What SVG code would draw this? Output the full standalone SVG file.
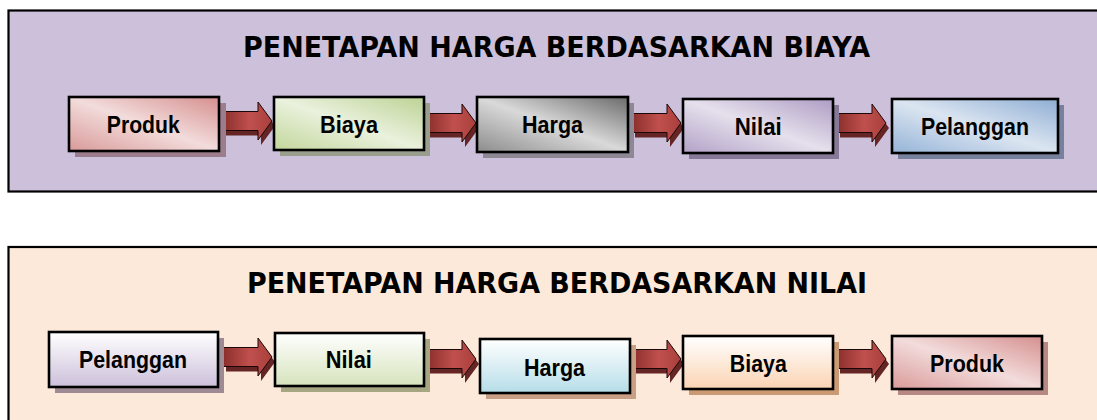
<svg xmlns="http://www.w3.org/2000/svg" width="1097" height="420" viewBox="0 0 1097 420">
<style>
.panel{stroke:#000;stroke-width:2.2}
.box{stroke:#000;stroke-width:2.6}
.title{font-family:"DejaVu Sans",Verdana,sans-serif;font-weight:bold;font-size:28px;fill:#000}
.lbl{font-family:"Liberation Sans",Arial,sans-serif;font-weight:bold;font-size:24px;fill:#000;text-anchor:middle}
.ash{fill:#642524}
.afr{fill:url(#gArrow);stroke:#1a0808;stroke-width:1}
</style>
<defs>
<linearGradient id="gArrow" x1="0" y1="0" x2="1" y2="0">
<stop offset="0" stop-color="#8a2f2c"/><stop offset="0.55" stop-color="#c0504d"/><stop offset="1" stop-color="#a83f3c"/>
</linearGradient>
<path id="arr" d="M0,-9.5 H35 V-19 L49,0 L35,19 V9.5 H0 Z"/>
<linearGradient id="gPink" x1="1" y1="0" x2="0" y2="1">
<stop offset="0" stop-color="#d58f8e"/><stop offset="0.5" stop-color="#f2dcdb"/><stop offset="1" stop-color="#d99a99"/>
</linearGradient>
<linearGradient id="gGreen" x1="1" y1="0" x2="0" y2="1">
<stop offset="0" stop-color="#bcd294"/><stop offset="0.5" stop-color="#eaf1dd"/><stop offset="1" stop-color="#c2d69b"/>
</linearGradient>
<linearGradient id="gGray" x1="1" y1="0" x2="0" y2="1">
<stop offset="0" stop-color="#6a6a6a"/><stop offset="0.5" stop-color="#d9d9d9"/><stop offset="1" stop-color="#8c8c8c"/>
</linearGradient>
<linearGradient id="gLav" x1="1" y1="0" x2="0" y2="1">
<stop offset="0" stop-color="#ae9cc4"/><stop offset="0.5" stop-color="#e5e0ec"/><stop offset="1" stop-color="#b2a1c7"/>
</linearGradient>
<linearGradient id="gBlue" x1="1" y1="0" x2="0" y2="1">
<stop offset="0" stop-color="#8eadd4"/><stop offset="0.5" stop-color="#dbe5f1"/><stop offset="1" stop-color="#95b3d7"/>
</linearGradient>
<linearGradient id="vLav" x1="0" y1="0" x2="0" y2="1">
<stop offset="0" stop-color="#ffffff"/><stop offset="1" stop-color="#ccc0da"/>
</linearGradient>
<linearGradient id="vGreen" x1="0" y1="0" x2="0" y2="1">
<stop offset="0" stop-color="#ffffff"/><stop offset="1" stop-color="#d6e3bc"/>
</linearGradient>
<linearGradient id="vBlue" x1="0" y1="0" x2="0" y2="1">
<stop offset="0" stop-color="#ffffff"/><stop offset="1" stop-color="#b6dde8"/>
</linearGradient>
<linearGradient id="vPeach" x1="0" y1="0" x2="0" y2="1">
<stop offset="0" stop-color="#ffffff"/><stop offset="1" stop-color="#fbd4b4"/>
</linearGradient>
</defs>

<rect width="1097" height="420" fill="#ffffff"/>

<g id="panel-biaya">
<rect class="panel" x="8.5" y="10.5" width="1100" height="181" fill="#ccc0da"/>
<text class="title" x="556.5" y="57" text-anchor="middle" textLength="627" lengthAdjust="spacingAndGlyphs">PENETAPAN HARGA BERDASARKAN BIAYA</text>
</g>
<g id="panel-nilai">
<rect class="panel" x="8.5" y="247" width="1100" height="190" fill="#fde9d9"/>
<text class="title" x="557" y="293" text-anchor="middle" textLength="620" lengthAdjust="spacingAndGlyphs">PENETAPAN HARGA BERDASARKAN NILAI</text>
</g>

<g id="connectors">
<use href="#arr" class="ash" x="226" y="126"/><use href="#arr" class="afr" x="223" y="121"/>
<use href="#arr" class="ash" x="430" y="128"/><use href="#arr" class="afr" x="427" y="123"/>
<use href="#arr" class="ash" x="635" y="128"/><use href="#arr" class="afr" x="632" y="123"/>
<use href="#arr" class="ash" x="840" y="128"/><use href="#arr" class="afr" x="837" y="123"/>
<use href="#arr" class="ash" x="226" y="362"/><use href="#arr" class="afr" x="223" y="357"/>
<use href="#arr" class="ash" x="430" y="364"/><use href="#arr" class="afr" x="427" y="359"/>
<use href="#arr" class="ash" x="635" y="364"/><use href="#arr" class="afr" x="632" y="359"/>
<use href="#arr" class="ash" x="840" y="364"/><use href="#arr" class="afr" x="837" y="359"/>
</g>

<g id="n1-produk">
<rect x="75" y="103" width="151" height="54" fill="#9c7d8b"/>
<rect class="box" x="69" y="97" width="150" height="54" fill="url(#gPink)"/>
<text class="lbl" x="143.3" y="133" textLength="73" lengthAdjust="spacingAndGlyphs">Produk</text>
</g>
<g id="n1-biaya">
<rect x="280" y="103" width="150" height="53" fill="#9a9e8c"/>
<rect class="box" x="274" y="97" width="150" height="53" fill="url(#gGreen)"/>
<text class="lbl" x="349" y="133" textLength="58" lengthAdjust="spacingAndGlyphs">Biaya</text>
</g>
<g id="n1-harga">
<rect x="483" y="103" width="151" height="55" fill="#8d8894"/>
<rect class="box" x="477" y="97" width="151" height="55" fill="url(#gGray)"/>
<text class="lbl" x="552.5" y="133" textLength="61" lengthAdjust="spacingAndGlyphs">Harga</text>
</g>
<g id="n1-nilai">
<rect x="689" y="105" width="150" height="54" fill="#867897"/>
<rect class="box" x="683" y="99" width="150" height="54" fill="url(#gLav)"/>
<text class="lbl" x="758.3" y="135" textLength="47" lengthAdjust="spacingAndGlyphs">Nilai</text>
</g>
<g id="n1-pelanggan">
<rect x="898" y="105" width="166" height="54" fill="#77819d"/>
<rect class="box" x="892" y="99" width="166" height="54" fill="url(#gBlue)"/>
<text class="lbl" x="975" y="135" textLength="108" lengthAdjust="spacingAndGlyphs">Pelanggan</text>
</g>

<g id="n2-pelanggan">
<rect x="55" y="338" width="169" height="55" fill="#9d8a95"/>
<rect class="box" x="49" y="332" width="169" height="55" fill="url(#vLav)"/>
<text class="lbl" x="133" y="368" textLength="108" lengthAdjust="spacingAndGlyphs">Pelanggan</text>
</g>
<g id="n2-nilai">
<rect x="281" y="339" width="149" height="53" fill="#a6a683"/>
<rect class="box" x="275" y="333" width="149" height="53" fill="url(#vGreen)"/>
<text class="lbl" x="348.8" y="368" textLength="46" lengthAdjust="spacingAndGlyphs">Nilai</text>
</g>
<g id="n2-harga">
<rect x="486" y="345" width="150" height="54" fill="#c9a085"/>
<rect class="box" x="480" y="339" width="150" height="54" fill="url(#vBlue)"/>
<text class="lbl" x="554.5" y="376" textLength="61" lengthAdjust="spacingAndGlyphs">Harga</text>
</g>
<g id="n2-biaya">
<rect x="689" y="342" width="150" height="53" fill="#c99a73"/>
<rect class="box" x="683" y="336" width="150" height="53" fill="url(#vPeach)"/>
<text class="lbl" x="758.3" y="372" textLength="57" lengthAdjust="spacingAndGlyphs">Biaya</text>
</g>
<g id="n2-produk">
<rect x="898" y="342" width="150" height="53" fill="#b68985"/>
<rect class="box" x="892" y="336" width="150" height="53" fill="url(#gPink)"/>
<text class="lbl" x="967" y="372" textLength="74" lengthAdjust="spacingAndGlyphs">Produk</text>
</g>
</svg>
